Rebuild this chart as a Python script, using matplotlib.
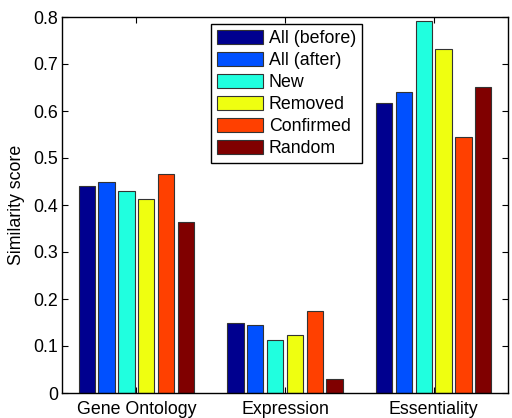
import matplotlib
matplotlib.use("Agg")
import matplotlib.pyplot as plt
import numpy as np

categories = ["Gene Ontology", "Expression", "Essentiality"]
series = ["All (before)", "All (after)", "New", "Removed", "Confirmed", "Random"]
values = {
    "All (before)": [0.440, 0.150, 0.618],
    "All (after)":  [0.448, 0.145, 0.641],
    "New":          [0.430, 0.112, 0.791],
    "Removed":      [0.412, 0.124, 0.732],
    "Confirmed":    [0.466, 0.174, 0.545],
    "Random":       [0.363, 0.030, 0.652],
}
colors = ["#00008F", "#0050FF", "#20FFDF", "#EFFF10", "#FF4000", "#800000"]
yticks = [0, 0.1, 0.2, 0.3, 0.4, 0.5, 0.6, 0.7, 0.8]
ytick_labels = ["0", "0.1", "0.2", "0.3", "0.4", "0.5", "0.6", "0.7", "0.8"]

plt.rcParams['font.family'] = ['Liberation Sans', 'DejaVu Sans']
fs = 12.8

fig = plt.figure(figsize=(5.12, 4.18), dpi=100)
ax = fig.add_axes([62/512, 25/418, 446/512, 376/418])

x = np.arange(1, len(categories) + 1)
n = len(series)
pitch = 0.8 / n
width = pitch * 0.82
for i, s in enumerate(series):
    offs = (i - (n - 1) / 2) * pitch
    ax.bar(x + offs, values[s], width=width, color=colors[i],
           edgecolor="#333333", linewidth=0.8, label=s, zorder=2)

ax.set_xlim(0.5, 3.5)
ax.set_ylim(0, 0.8)
ax.set_xticks(x)
ax.set_xticklabels(categories, fontsize=fs)
ax.set_yticks(yticks)
ax.set_yticklabels(ytick_labels, fontsize=fs)
ax.tick_params(direction="in", top=True, right=True, length=4, width=0.8, pad=3)
ax.tick_params(axis="x", pad=6)
for sp in ax.spines.values():
    sp.set_linewidth(1.0)
ax.set_ylabel("Similarity score", fontsize=fs)
ax.yaxis.set_label_coords(-0.083, 0.5)

leg = ax.legend(loc="upper left", bbox_to_anchor=(0.334, 0.981), borderaxespad=0,
                fontsize=fs, fancybox=False, frameon=True, edgecolor="black",
                handlelength=2.6, handleheight=0.8, labelspacing=0.28,
                handletextpad=0.3, borderpad=0.35)
leg.get_frame().set_linewidth(1.0)
leg.get_frame().set_alpha(1)

fig.savefig("out.png", dpi=100)
